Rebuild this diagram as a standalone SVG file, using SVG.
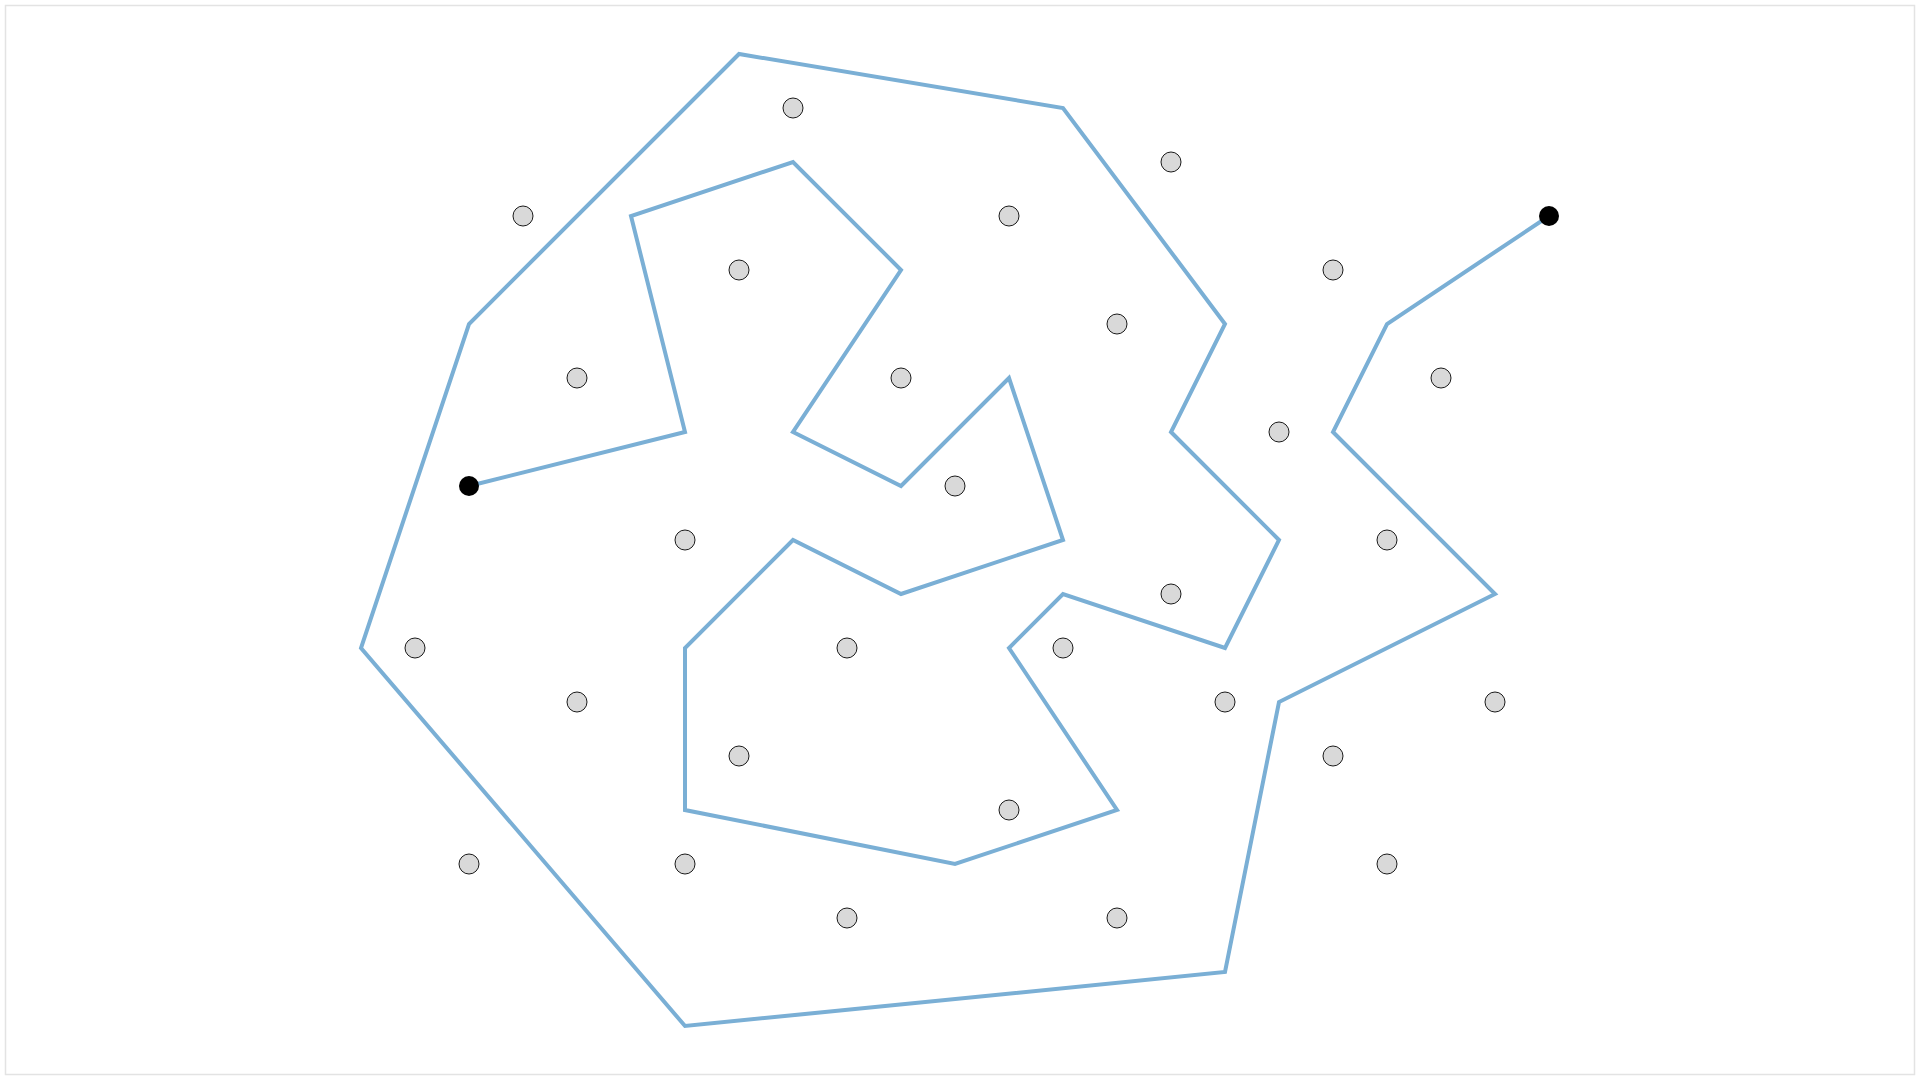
<svg xmlns="http://www.w3.org/2000/svg" width="1920" height="1080" viewBox="0 0 1920 1080">
<style>
.frame{fill:#ffffff;stroke:#e3e3e3;stroke-width:1.5}
.dot{fill:#d9d9d9;stroke:#1a1a1a;stroke-width:1}
.end{fill:#000000}
.route{fill:none;stroke:#7aafd5;stroke-width:4;stroke-linejoin:miter;stroke-linecap:round}
</style>
<rect class="frame" x="5.5" y="5.5" width="1909" height="1069"/>
<g id="connectors">
<polyline class="route" points="469,486 685,432 631,216 793,162 901,270 793,432 901,486 1009,378 1063,540 901,594 793,540 685,648 685,810 955,864 1117,810 1009,648 1063,594 1225,648 1279,540 1171,432 1225,324 1063,108 739,54 469,324 361,648 685,1026 1225,972 1279,702 1495,594 1333,432 1387,324 1549,216"/>
</g>
<g id="nodes">
<g id="p1"><circle class="dot" cx="793" cy="108" r="10"/></g>
<g id="p2"><circle class="dot" cx="1171" cy="162" r="10"/></g>
<g id="p3"><circle class="dot" cx="523" cy="216" r="10"/></g>
<g id="p4"><circle class="dot" cx="1009" cy="216" r="10"/></g>
<g id="p5"><circle class="dot" cx="739" cy="270" r="10"/></g>
<g id="p6"><circle class="dot" cx="1333" cy="270" r="10"/></g>
<g id="p7"><circle class="dot" cx="1117" cy="324" r="10"/></g>
<g id="p8"><circle class="dot" cx="577" cy="378" r="10"/></g>
<g id="p9"><circle class="dot" cx="901" cy="378" r="10"/></g>
<g id="p10"><circle class="dot" cx="1441" cy="378" r="10"/></g>
<g id="p11"><circle class="dot" cx="1279" cy="432" r="10"/></g>
<g id="p12"><circle class="dot" cx="955" cy="486" r="10"/></g>
<g id="p13"><circle class="dot" cx="685" cy="540" r="10"/></g>
<g id="p14"><circle class="dot" cx="1387" cy="540" r="10"/></g>
<g id="p15"><circle class="dot" cx="1171" cy="594" r="10"/></g>
<g id="p16"><circle class="dot" cx="415" cy="648" r="10"/></g>
<g id="p17"><circle class="dot" cx="847" cy="648" r="10"/></g>
<g id="p18"><circle class="dot" cx="1063" cy="648" r="10"/></g>
<g id="p19"><circle class="dot" cx="577" cy="702" r="10"/></g>
<g id="p20"><circle class="dot" cx="1225" cy="702" r="10"/></g>
<g id="p21"><circle class="dot" cx="1495" cy="702" r="10"/></g>
<g id="p22"><circle class="dot" cx="739" cy="756" r="10"/></g>
<g id="p23"><circle class="dot" cx="1333" cy="756" r="10"/></g>
<g id="p24"><circle class="dot" cx="1009" cy="810" r="10"/></g>
<g id="p25"><circle class="dot" cx="469" cy="864" r="10"/></g>
<g id="p26"><circle class="dot" cx="685" cy="864" r="10"/></g>
<g id="p27"><circle class="dot" cx="1387" cy="864" r="10"/></g>
<g id="p28"><circle class="dot" cx="847" cy="918" r="10"/></g>
<g id="p29"><circle class="dot" cx="1117" cy="918" r="10"/></g>
<g id="start"><circle class="end" cx="469" cy="486" r="10"/></g>
<g id="finish"><circle class="end" cx="1549" cy="216" r="10"/></g>
</g>
</svg>
